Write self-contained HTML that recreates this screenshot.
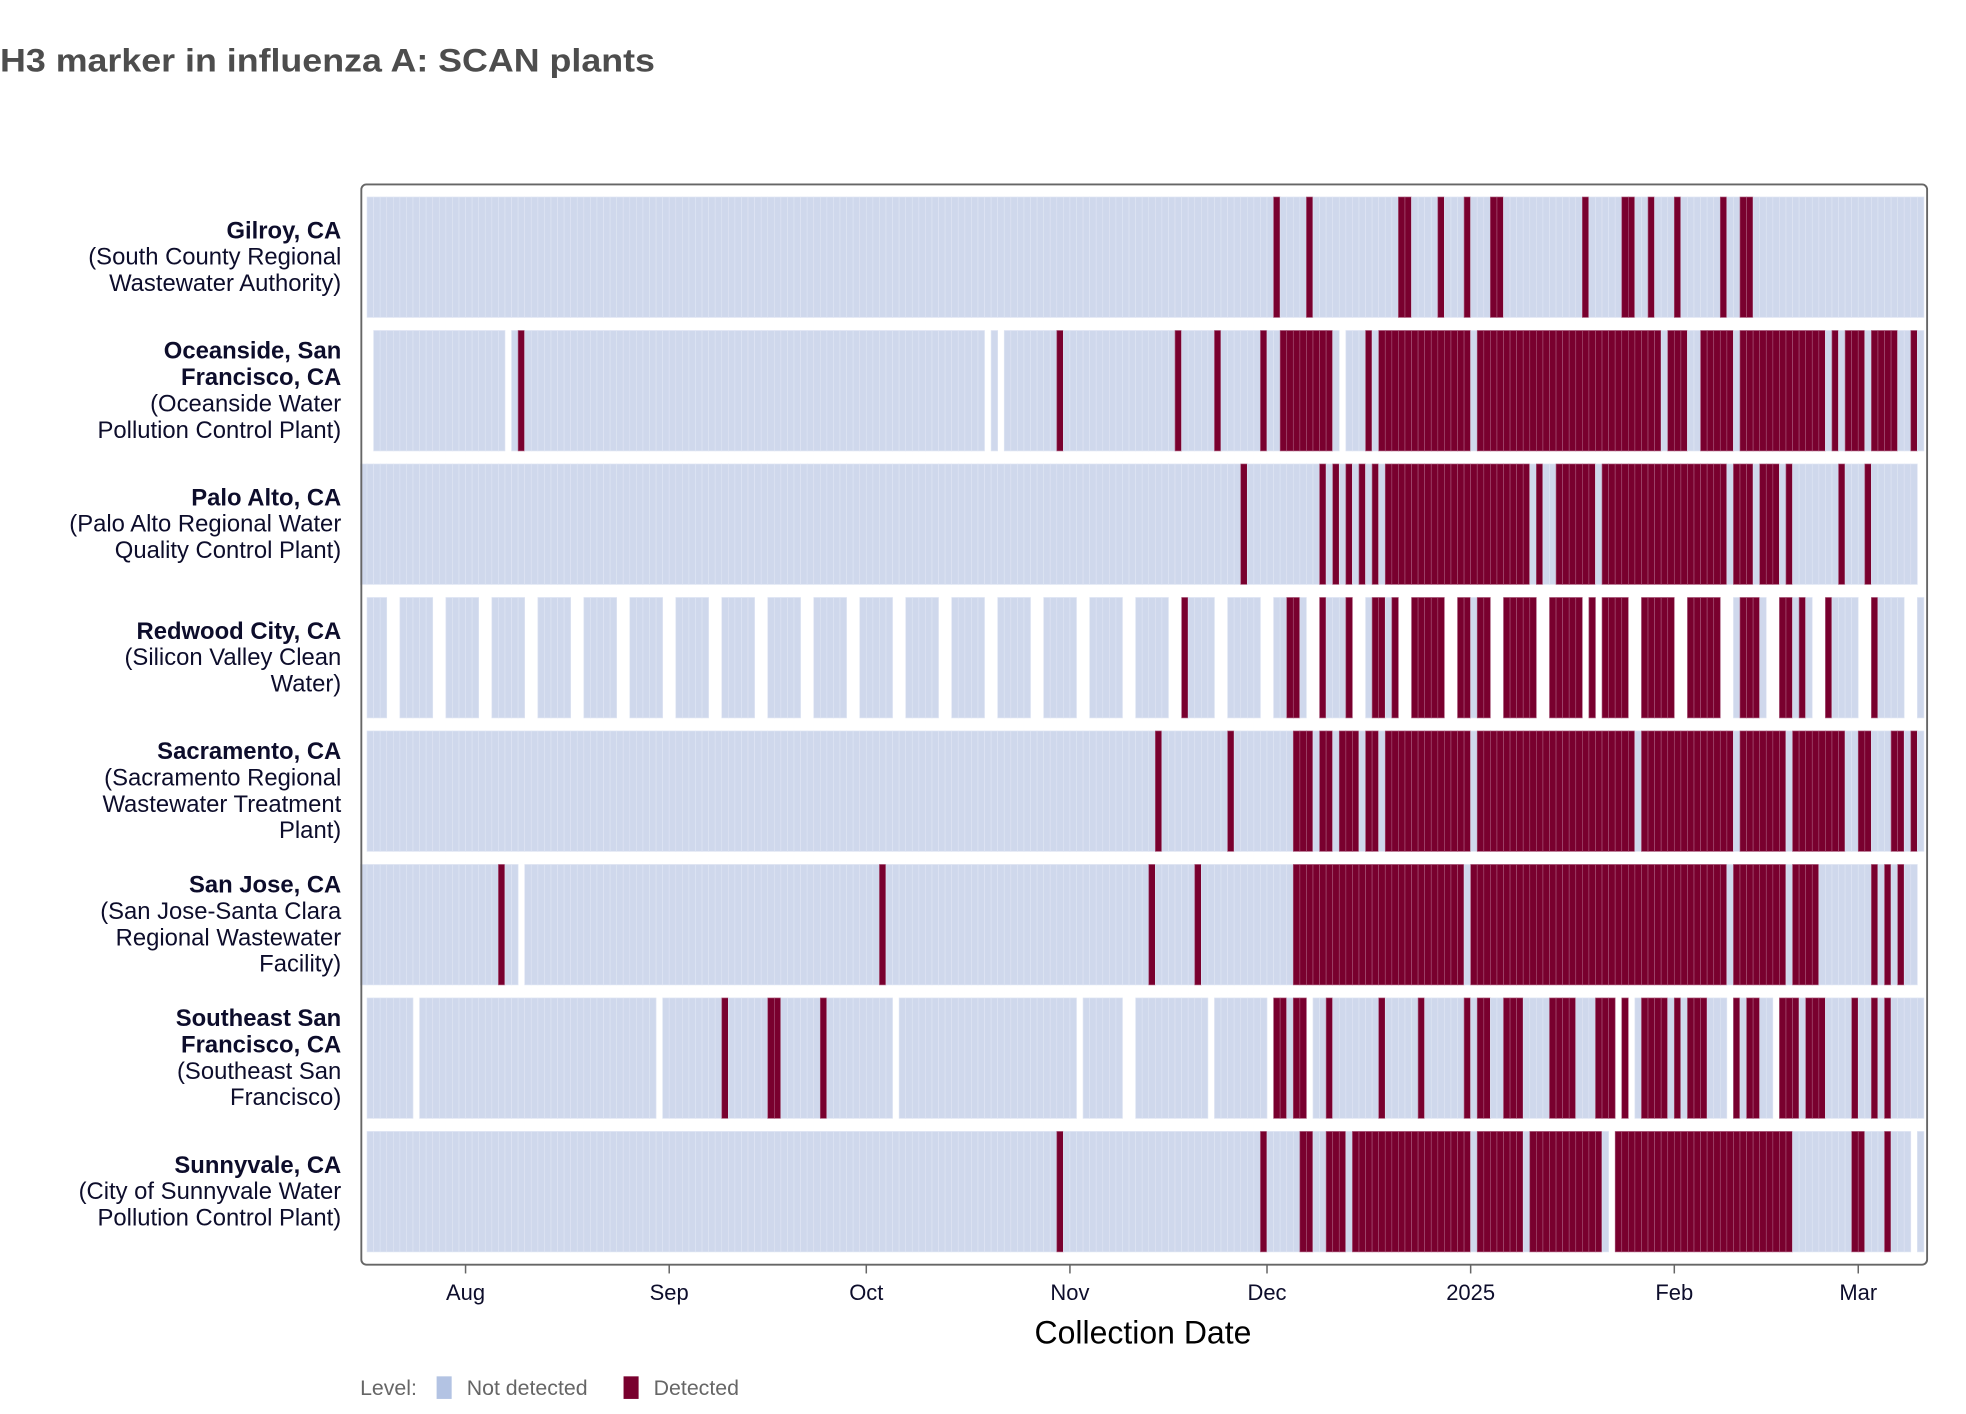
<!DOCTYPE html>
<html><head><meta charset="utf-8"><title>H3 marker in influenza A: SCAN plants</title>
<style>html,body{margin:0;padding:0;background:#fff;}svg{display:block;}</style></head>
<body>
<svg id="chart" xmlns="http://www.w3.org/2000/svg" width="1966" height="1414" viewBox="0 0 1567 1127" font-family="Liberation Sans, Arial, sans-serif">
<text x="0" y="57" font-size="26" font-weight="bold" fill="#4d4d4d" textLength="522" lengthAdjust="spacingAndGlyphs">H3 marker in influenza A: SCAN plants</text>
<g id="cells"></g>
<rect x="288" y="147" width="1248" height="861" rx="4" fill="none" stroke="#666" stroke-width="1.5"/>
<g id="labels"></g>
<g id="xaxis"></g>
<text x="911" y="1071" font-size="25.5" text-anchor="middle" fill="#000">Collection Date</text>
<g>
<text x="287" y="1112" font-size="17" fill="#666">Level:</text>
<rect x="348" y="1097" width="12" height="18" fill="#b3c3e3"/>
<text x="372" y="1112" font-size="17" fill="#666">Not detected</text>
<rect x="497" y="1097" width="12" height="18" fill="#79002e"/>
<text x="521" y="1112" font-size="17" fill="#666">Detected</text>
</g>
</svg>
<script>
// day 0 = 2024-07-16
const siteNames = ["Gilroy, CA","Oceanside, San Francisco, CA","Palo Alto, CA","Redwood City, CA","Sacramento, CA","San Jose, CA","Southeast San Francisco, CA","Sunnyvale, CA"];
const siteLabelLines = [
 [["Gilroy, CA",1],["(South County Regional",0],["Wastewater Authority)",0]],
 [["Oceanside, San",1],["Francisco, CA",1],["(Oceanside Water",0],["Pollution Control Plant)",0]],
 [["Palo Alto, CA",1],["(Palo Alto Regional Water",0],["Quality Control Plant)",0]],
 [["Redwood City, CA",1],["(Silicon Valley Clean",0],["Water)",0]],
 [["Sacramento, CA",1],["(Sacramento Regional",0],["Wastewater Treatment",0],["Plant)",0]],
 [["San Jose, CA",1],["(San Jose-Santa Clara",0],["Regional Wastewater",0],["Facility)",0]],
 [["Southeast San",1],["Francisco, CA",1],["(Southeast San",0],["Francisco)",0]],
 [["Sunnyvale, CA",1],["(City of Sunnyvale Water",0],["Pollution Control Plant)",0]]
];
const sampledRange = [[1,237],[2,237],[0,236],[1,237],[1,237],[0,236],[1,237],[1,237]];
const missingDays = [
 [],
 [22,95,97,149],
 [],
 [4,5,11,12,18,19,25,26,32,33,39,40,46,47,53,54,60,61,67,68,74,75,81,82,88,89,95,96,102,103,109,110,116,117,123,124,130,131,137,138,144,145,151,152,158,159,165,166,172,173,179,180,186,188,193,194,200,201,207,208,214,215,221,222,228,229,235,236],
 [],
 [24],
 [8,45,81,109,116,117,129,138,144,191,193,208,215],
 [190,236]
];
const detectedRanges = [
 [[139,139],[144,144],[158,159],[164,164],[168,168],[172,173],[186,186],[192,193],[196,196],[200,200],[207,207],[210,211]],
 [[24,24],[106,106],[124,124],[130,130],[137,137],[140,147],[153,153],[155,168],[170,197],[199,201],[204,208],[210,222],[224,224],[226,228],[230,233],[236,236]],
 [[134,134],[146,146],[148,148],[150,150],[152,152],[154,154],[156,177],[179,179],[182,187],[189,207],[209,211],[213,215],[217,217],[225,225],[229,229]],
 [[125,125],[141,142],[146,146],[150,150],[154,155],[157,157],[160,164],[167,168],[170,171],[174,178],[181,185],[187,187],[189,192],[195,199],[202,206],[210,212],[216,217],[219,219],[223,223],[230,230]],
 [[121,121],[132,132],[142,144],[146,147],[149,151],[153,154],[156,168],[170,193],[195,208],[210,216],[218,225],[228,229],[233,234],[236,236]],
 [[21,21],[79,79],[120,120],[127,127],[142,167],[169,207],[209,216],[218,221],[230,230],[232,232],[234,234]],
 [[55,55],[62,63],[70,70],[139,140],[142,143],[147,147],[155,155],[161,161],[168,168],[170,171],[174,176],[181,184],[188,190],[192,192],[195,198],[200,200],[202,204],[209,209],[211,212],[216,218],[220,222],[227,227],[230,230],[232,232]],
 [[106,106],[137,137],[143,144],[147,149],[151,168],[170,176],[178,188],[191,217],[227,228],[232,232]]
];
const tickLabels = ["Aug","Sep","Oct","Nov","Dec","2025","Feb","Mar"];
const tickDays = [16,47,77,108,138,169,200,228];

const NS = "http://www.w3.org/2000/svg";
const X0 = 287.3, DAYW = 5.236;
function xScale(day){ return X0 + day*DAYW; }
const ROW_TOP = 157, ROW_STEP = 106.4, ROW_H = 96;
function yScale(i){ return ROW_TOP + i*ROW_STEP; }
function mk(tag, attrs){ const e=document.createElementNS(NS,tag); for(const k in attrs) e.setAttribute(k,attrs[k]); return e; }

const cells = document.getElementById('cells');
siteNames.forEach((name,i)=>{
  const miss = new Set(missingDays[i]);
  const det = new Set();
  detectedRanges[i].forEach(r=>{ for(let d=r[0]; d<=r[1]; d++) det.add(d); });
  const y = yScale(i);
  for(let d=sampledRange[i][0]; d<=sampledRange[i][1]; d++){
    if(miss.has(d)) continue;
    const isD = det.has(d);
    const r = mk('rect',{x:xScale(d).toFixed(2), y:y, width:DAYW.toFixed(3), height:ROW_H,
      fill: isD ? '#79002e' : '#cfd8ec', stroke: isD ? '#a8577a' : '#dfe5f3', 'stroke-width':'0.5'});
    
    
    cells.appendChild(r);
  }
});

const labels = document.getElementById('labels');
siteLabelLines.forEach((lines,i)=>{
  const cy = yScale(i) + ROW_H/2;
  const n = lines.length;
  const g = mk('g',{});
  
  
  lines.forEach((ln,j)=>{
    const t = mk('text',{x:272, y:(cy - (n-1)*21/2 + 6 + j*21).toFixed(1), 'text-anchor':'end', 'font-size':'19', fill:'#0d0d2b', 'font-weight': ln[1] ? 'bold':'normal'});
    t.textContent = ln[0];
    
    
    g.appendChild(t);
  });
  labels.appendChild(g);
});

const xaxis = document.getElementById('xaxis');
tickLabels.forEach((lab,i)=>{
  const x = xScale(tickDays[i]);
  const tk = mk('line',{x1:x, x2:x, y1:1008, y2:1015, stroke:'#666', 'stroke-width':'1.2'});
  
  
  xaxis.appendChild(tk);
  const t = mk('text',{x:x, y:1036, 'text-anchor':'middle', 'font-size':'17.5', fill:'#0d0d2b'});
  t.textContent = lab;
  
  
  xaxis.appendChild(t);
});
</script>
</body></html>
